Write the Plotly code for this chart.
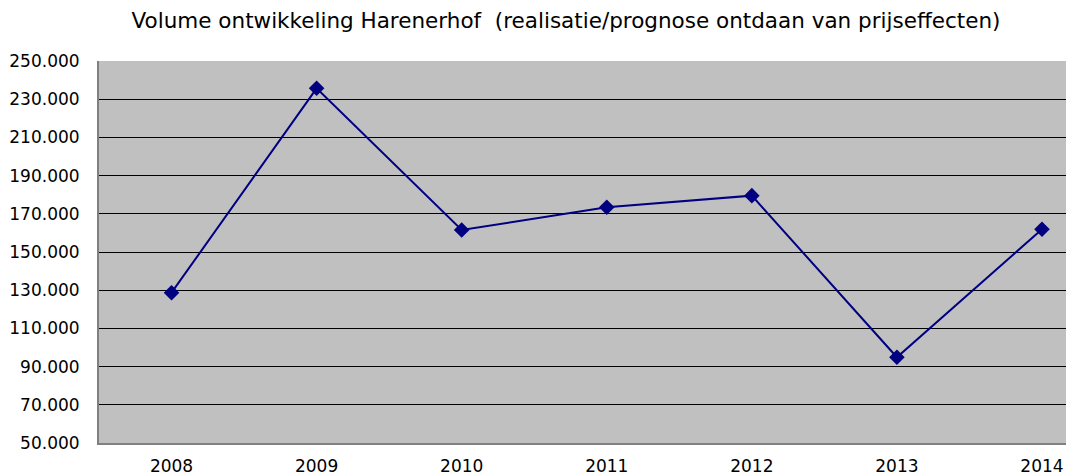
import plotly.graph_objects as go

years = ["2008", "2009", "2010", "2011", "2012", "2013", "2014"]
volume = [128700, 235700, 161500, 173400, 179500, 94900, 161900]
y_ticks = [50000, 70000, 90000, 110000, 130000, 150000, 170000, 190000, 210000, 230000, 250000]
y_tick_labels = ["50.000", "70.000", "90.000", "110.000", "130.000", "150.000",
                 "170.000", "190.000", "210.000", "230.000", "250.000"]
title_text = "Volume ontwikkeling Harenerhof  (realisatie/prognose ontdaan van prijseffecten)"

W, H = 1066, 475
L, T, B = 99, 61, 475 - 443
first_px, step_px = 172, 145
x_right = (W - first_px) / step_px

fig = go.Figure()
fig.add_trace(go.Scatter(
    x=list(range(len(years))), y=volume, mode="lines+markers",
    line=dict(color="#000080", width=2),
    marker=dict(symbol="diamond", size=12, color="#000080"),
    hoverinfo="skip", showlegend=False,
))

font = "DejaVu Sans, Arial, sans-serif"
fig.update_layout(
    width=W, height=H,
    margin=dict(l=L, r=0, t=T, b=B, pad=0, autoexpand=False),
    paper_bgcolor="white", plot_bgcolor="#C0C0C0",
    title=dict(text=title_text, x=566 / W, xanchor="center", y=1 - 20 / H,
               yanchor="middle", font=dict(family=font, size=21.5, color="black")),
    xaxis=dict(range=[-0.5, x_right], tickmode="array", tickvals=list(range(len(years))),
               ticktext=years, showgrid=False, zeroline=False, automargin=False,
               showline=True, linecolor="#808080", linewidth=2,
               ticks="", ticklabelstandoff=7,
               tickfont=dict(family=font, size=17, color="black")),
    yaxis=dict(range=[50000, 250000], tickmode="array", tickvals=y_ticks, ticktext=y_tick_labels,
               showgrid=True, gridcolor="black", gridwidth=1, zeroline=False, automargin=False,
               showline=True, linecolor="#808080", linewidth=2, mirror=True,
               ticks="", ticklabelstandoff=14,
               tickfont=dict(family=font, size=17, color="black")),
)

fig.write_html(
    "out.html",
    config={"displayModeBar": False, "staticPlot": True},
    post_script="document.body.style.margin='0';document.body.style.overflow='hidden';",
)
